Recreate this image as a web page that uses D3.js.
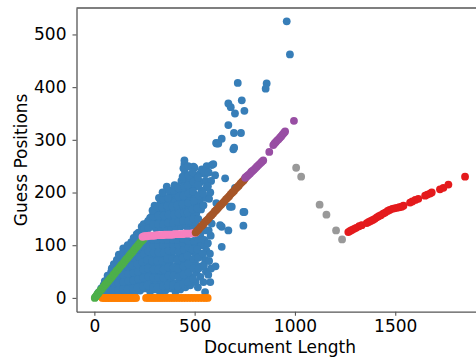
<!DOCTYPE html>
<html>
<head>
<meta charset="utf-8">
<script src="https://cdn.jsdelivr.net/npm/d3@7"></script>
<style>
  body { margin: 0; background: #fff; }
  svg { display: block; font-family: "DejaVu Sans", sans-serif; }
</style>
</head>
<body>
<svg id="chart"></svg>
<script>
// [document length, guess position] per group
const blue = [
  [12,4],[30,6],[34,18],[55,5],[58,20],[52,32],[78,8],[82,22],[80,38],[84,50],
  [104,6],[108,20],[102,34],[106,48],[110,60],[112,72],[87,56],[53,27],
  [128,10],[132,24],[130,38],[134,52],[128,66],[132,80],
  [152,8],[158,22],[155,36],[150,50],[156,64],[160,78],[154,90],
  [178,10],[182,25],[180,40],[176,54],[184,68],[180,82],[178,96],[184,106],
  [204,12],[208,28],[202,42],[206,56],[210,70],[204,84],[208,98],[211,121],[212,110],
  [228,14],[232,30],[230,45],[226,60],[234,74],[230,88],[228,102],[236,135],[240,126],
  [254,18],[258,34],[252,50],[256,64],[260,80],[254,96],[258,108],[253,135],[262,142],
  [278,12],[282,28],[280,44],[276,60],[284,76],[280,92],[278,106],[278,152],[284,138],[286,154],
  [304,16],[308,32],[302,48],[306,64],[310,80],[304,96],[308,108],[306,132],[302,146],[310,162],[300,175],
  [328,10],[332,26],[330,42],[326,58],[334,74],[330,90],[328,104],[332,134],[326,150],[334,166],[330,182],
  [354,14],[358,30],[352,46],[356,62],[360,78],[354,94],[358,106],[356,132],[352,148],[360,164],[349,190],[356,178],[361,211],
  [378,18],[382,34],[380,50],[376,66],[384,82],[380,98],[378,108],[382,134],[376,150],[384,166],[380,182],[394,189],[378,198],
  [404,12],[408,28],[402,44],[406,60],[410,76],[404,92],[408,106],[406,134],[402,150],[410,166],[404,182],[414,211],[408,198],
  [428,16],[432,32],[430,48],[426,64],[434,80],[430,96],[428,108],[432,136],[426,152],[434,168],[430,184],[428,200],[434,222],
  [454,20],[458,36],[452,52],[456,68],[460,84],[454,100],[458,110],[456,138],[452,154],[460,170],[454,186],[458,204],
  [449,261],[449,254],[452,238],[460,222],
  [478,24],[482,40],[480,56],[476,72],[484,88],[480,104],[482,138],[476,156],[484,172],[480,190],
  [482,223],[477,227],[494,249],[499,247],[488,236],[478,208],
  [504,30],[508,48],[502,66],[506,84],[510,100],[504,140],[508,160],[512,178],[502,196],[506,212],[510,232],[527,236],
  [528,40],[532,60],[530,80],[534,100],[528,118],[532,168],[526,186],[534,204],[530,220],[536,244],
  [552,11],[556,50],[552,72],[558,90],[563,103],[552,128],[556,190],[560,210],[552,235],[560,250],[556,222],
  [578,30],[582,56],[585,141],[580,118],[578,200],[585,252],[582,222],[576,84],[593,254],
  [20,10],[44,12],[46,24],[68,14],[70,28],[66,42],[92,14],[95,28],[94,42],[90,56],[97,64],
  [118,14],[120,28],[116,42],[120,56],[118,70],[122,82],
  [142,16],[145,30],[144,44],[140,58],[146,72],[142,86],[144,94],
  [166,16],[170,32],[168,46],[164,60],[170,74],[168,88],[166,100],
  [192,18],[195,33],[194,48],[190,62],[196,76],[192,90],[194,104],[196,114],
  [216,20],[220,36],[218,50],[214,64],[222,78],[218,92],[216,106],[220,124],
  [242,22],[245,38],[244,54],[240,68],[246,84],[242,98],[244,108],[246,140],[248,130],
  [266,24],[270,40],[268,56],[264,72],[270,88],[268,102],[266,110],[270,132],[268,146],
  [292,20],[295,38],[294,54],[290,70],[296,86],[292,100],[294,110],[292,140],[296,155],[290,166],
  [316,20],[320,38],[318,54],[314,70],[320,86],[318,100],[316,110],[318,140],[320,156],[316,172],[322,190],
  [342,22],[345,38],[344,54],[340,70],[346,86],[342,100],[344,110],[342,140],[346,156],[340,172],[344,188],[340,200],
  [366,24],[370,42],[368,58],[364,74],[370,90],[368,102],[366,110],[368,142],[370,158],[364,174],[368,190],[372,204],
  [392,24],[395,42],[394,58],[390,74],[396,90],[392,102],[394,110],[392,142],[396,158],[390,174],[396,204],[400,214],
  [416,22],[420,40],[418,56],[414,72],[420,88],[418,100],[416,110],[418,144],[420,160],[414,176],[420,192],[418,208],
  [442,26],[445,44],[444,60],[440,76],[446,92],[442,104],[444,112],[442,146],[446,162],[440,178],[444,194],[446,212],[440,230],[444,246],
  [466,30],[470,48],[468,64],[464,80],[470,96],[468,108],[466,128],[470,146],[464,162],[468,180],[470,198],[466,214],[470,232],[468,250],
  [492,36],[495,56],[494,74],[490,92],[496,108],[492,130],[494,150],[490,168],[496,184],[492,202],[494,220],[490,238],
  [516,20],[520,56],[518,76],[514,92],[520,112],[518,150],[514,170],[520,194],[518,214],[516,228],
  [544,30],[546,62],[540,84],[548,110],[544,176],[542,198],[548,240],
  [568,44],[572,70],[566,104],[570,128],[572,188],[566,212],[570,238],
  [602,233],[604,60],[608,180],[610,293],[607,294],[618,293],[635,302],[627,138],[635,135],[635,97],
  [652,227],[668,128],[676,173],[685,173],[693,282],[697,285],[701,209],[743,137],[743,163],[748,163],
  [668,328],[696,313],[731,313],[668,369],[680,362],[701,350],[735,375],[748,355],
  [715,408],[859,407],[854,397],[959,525],[975,462]
];
const orange = [
  [40,0],[48,0],[55,0],[63,0],[70,0],[78,0],[86,0],[93,0],[101,0],[109,0],[116,0],[124,0],
  [132,0],[139,0],[147,0],[155,0],[162,0],[170,0],[178,0],[186,0],[193,0],[201,0],[208,0],
  [258,0],[268,0],[279,0],[290,0],[300,0],[311,0],[322,0],[333,0],[344,0],[356,0],[368,0],
  [380,0],[392,0],[404,0],[417,0],[430,0],[443,0],[456,0],[470,0],[484,0],[498,0],[512,0],
  [526,0],[540,0],[553,0],[565,0]
];
const green = [
  [2,0],[6,2],[10,4],[15,7],[20,9],[26,12],[32,15],[38,17],[45,21],[52,24],[58,27],[65,30],
  [72,33],[80,37],[88,40],[95,44],[102,47],[110,51],[118,54],[126,58],[134,62],[142,65],
  [150,69],[158,73],[166,76],[174,80],[182,84],[190,87],[198,91],[206,95],[214,98],[222,102],
  [230,106],[238,109],[245,112]
];
const pink = [
  [240,116],[248,117],[256,117],[264,117],[272,118],[280,118],[290,118],[300,118],[310,119],
  [320,119],[330,119],[340,119],[350,120],[360,120],[370,120],[380,120],[390,120],[400,121],
  [410,121],[420,121],[430,121],[440,121],[450,122],[460,122],[470,122],[480,122],[490,123],
  [500,123],[506,124]
];
const brown = [
  [505,124],[512,127],[520,130],[528,134],[536,137],[544,140],[552,144],[560,147],[568,150],
  [576,154],[584,157],[592,160],[600,164],[608,167],[616,170],[624,174],[632,177],[640,180],
  [648,183],[656,187],[664,190],[672,193],[680,197],[688,200],[696,203],[704,207],[712,210],
  [720,213],[728,217],[736,220],[744,223],[750,226]
];
const purple = [
  [752,228],[758,230],[764,232],[770,234],[776,236],[782,239],[788,241],[795,243],[802,246],
  [810,249],[818,252],[826,255],[834,258],[842,261],[872,277],[892,290],[898,293],[905,296],
  [912,299],[918,301],[925,304],[932,307],[938,310],[945,313],[951,316],[995,336]
];
const gray = [[1006,247],[1031,230],[1123,177],[1157,158],[1205,128],[1235,111]];
const red = [
  [1266,125],[1275,127],[1284,129],[1295,131],[1305,133],[1320,136],[1333,138],[1358,142],
  [1368,144],[1378,146],[1388,148],[1398,150],[1408,153],[1418,155],[1428,157],[1440,160],
  [1450,162],[1462,165],[1472,167],[1485,169],[1496,170],[1508,171],[1520,172],[1532,173],
  [1541,175],[1574,181],[1585,183],[1600,186],[1615,188],[1649,194],[1660,196],[1673,198],
  [1682,200],[1723,206],[1740,209],[1765,215],[1848,230]
];
const xTicks = [0, 500, 1000, 1500];
const yTicks = [0, 100, 200, 300, 400, 500];

const groups = [
  { data: blue, color: '#377eb8' },
  { data: orange, color: '#ff7f00' },
  { data: green, color: '#4daf4a' },
  { data: pink, color: '#f781bf' },
  { data: brown, color: '#a65628' },
  { data: purple, color: '#984ea3' },
  { data: gray, color: '#999999' },
  { data: red, color: '#e41a1c' }
];

const width = 476, height = 358;
const margin = { top: 8, right: -7.5, bottom: 46.3, left: 76.5 };

const svg = d3.select('#chart')
  .attr('width', width)
  .attr('height', height);

const x = d3.scaleLinear()
  .domain([-89, 1940])
  .range([margin.left, width - margin.right]);

const y = d3.scaleLinear()
  .domain([-26.2, 550.2])
  .range([height - margin.bottom, margin.top]);

// points
groups.forEach(g => {
  svg.append('g')
    .selectAll('circle')
    .data(g.data)
    .join('circle')
    .attr('cx', d => x(d[0]))
    .attr('cy', d => y(d[1]))
    .attr('r', 3.9)
    .attr('fill', g.color);
});

// axes
const xAxis = svg.append('g')
  .attr('transform', `translate(0,${height - margin.bottom})`)
  .call(d3.axisBottom(x).tickValues(xTicks).tickFormat(d3.format('d'))
    .tickSize(4).tickPadding(4).tickSizeOuter(0));

const yAxis = svg.append('g')
  .attr('transform', `translate(${margin.left},0)`)
  .call(d3.axisLeft(y).tickValues(yTicks).tickFormat(d3.format('d'))
    .tickSize(4).tickPadding(6).tickSizeOuter(0));

[xAxis, yAxis].forEach(a => {
  a.select('.domain').attr('stroke', '#555').attr('stroke-width', 1.3);
  a.selectAll('.tick line').attr('stroke', '#555').attr('stroke-width', 1.1);
  a.selectAll('.tick text')
    .attr('fill', '#000')
    .style('font-size', '17px')
    .style('font-family', '"DejaVu Sans", sans-serif');
});

// top spine
svg.append('line')
  .attr('x1', margin.left).attr('x2', width - margin.right)
  .attr('y1', margin.top).attr('y2', margin.top)
  .attr('stroke', '#555').attr('stroke-width', 1.3);

// axis labels
svg.append('text')
  .attr('x', 280)
  .attr('y', 353)
  .attr('text-anchor', 'middle')
  .style('font-size', '17px')
  .text('Document Length');

svg.append('text')
  .attr('transform', `translate(27,${(margin.top + height - margin.bottom) / 2}) rotate(-90)`)
  .attr('text-anchor', 'middle')
  .style('font-size', '17px')
  .text('Guess Positions');
</script>
</body>
</html>
